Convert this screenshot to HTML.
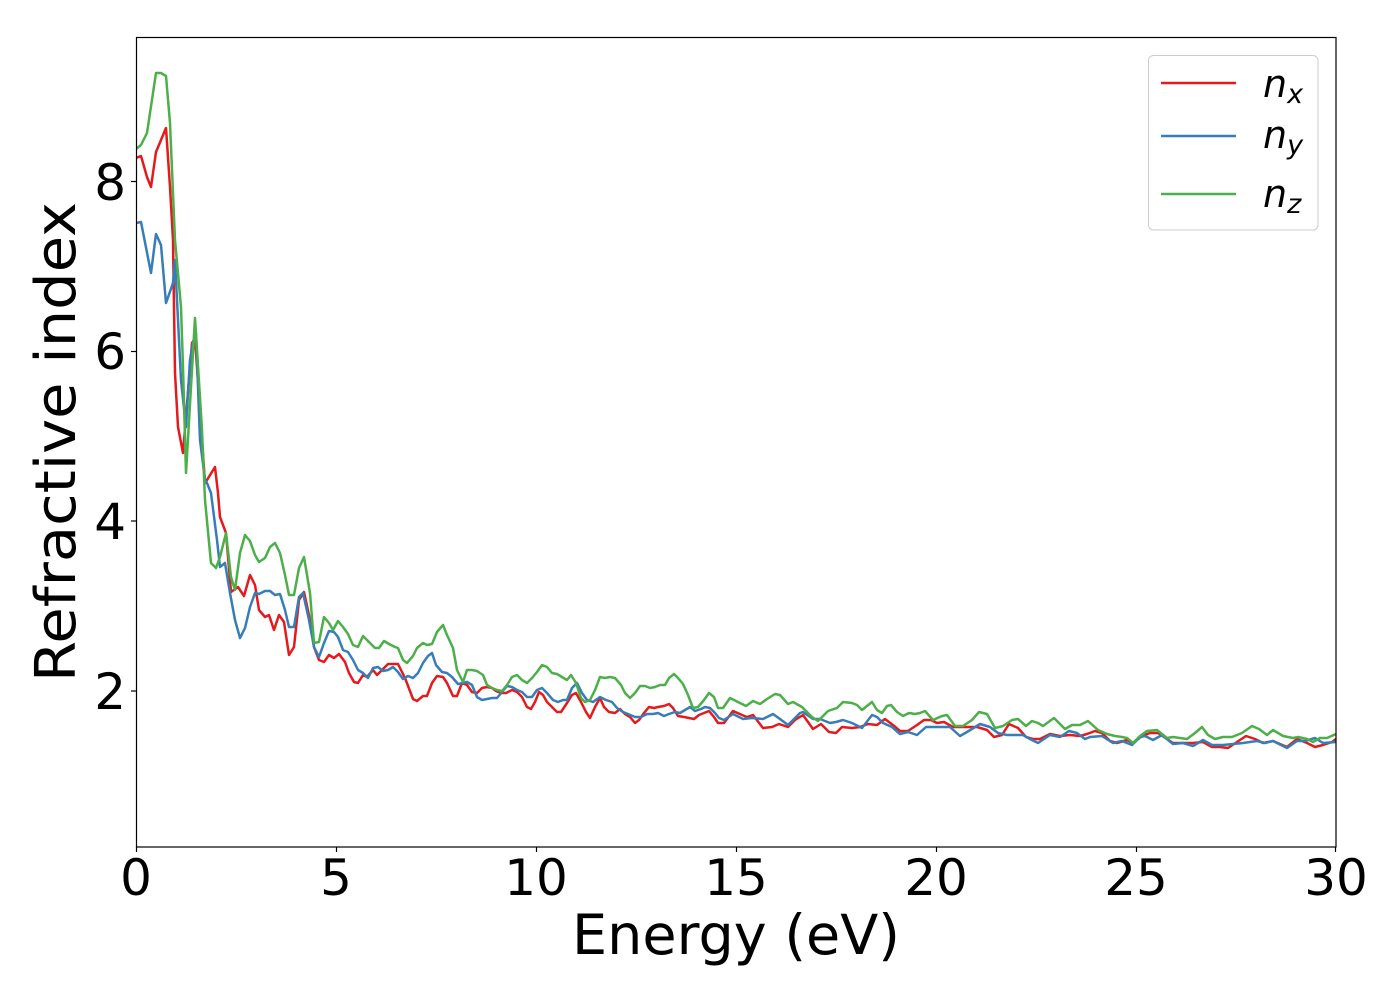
<!DOCTYPE html>
<html><head><meta charset="utf-8"><style>
html,body{margin:0;padding:0;background:#fff;}
svg{display:block;}
text{font-family:"DejaVu Sans","Liberation Sans",sans-serif;fill:#000;}
</style></head><body>
<svg width="1400" height="1000" viewBox="0 0 1400 1000" xmlns="http://www.w3.org/2000/svg">
<rect width="1400" height="1000" fill="#fff"/>
<defs><clipPath id="c"><rect x="136" y="37" width="1200" height="810"/></clipPath></defs>
<g clip-path="url(#c)" fill="none" stroke-width="2.5" stroke-linejoin="round" stroke-linecap="round">
<polyline stroke="#e41a1c" points="136,158 141,156 147,177 151,187 156,152 166,128 170,187 173,240 175,373 178,427 183,453 192,343 195,338 205,483 207,480 215,467 218,493 220,517 226,533 231,592 238,587 244,596 250,575 255,585 259,610 265,617 269,615 274,630 279,615 284,622 289,655 294,647 299,600 304,592 310,620 314,647 319,660 324,662 329,655 334,658 339,654 345,662 349,673 354,682 358,683 363,675 367,677 373,670 377,675 382,670 388,664 398,664 405,678 413,699 417,701 423,696 427,696 432,683 437,676 443,677 447,683 453,696 457,696 462,683 467,685 472,692 477,693 482,688 487,687 492,688 496,691 501,693 506,693 512,690 517,692 522,697 527,707 531,709 535,702 539,692 543,695 547,702 552,707 557,712 561,712 567,703 572,695 576,693 581,702 586,712 590,718 595,707 600,698 604,707 609,712 615,713 620,709 625,714 630,717 635,723 639,720 644,713 649,707 654,708 658,707 664,706 669,704 673,708 678,716 684,717 689,718 694,719 699,715 704,713 709,711 714,717 718,723 724,723 733,711 742,715 747,717 753,715 763,728 772,727 779,724 788,727 795,720 803,715 813,729 821,724 829,732 836,733 842,727 852,728 860,727 868,724 877,725 885,719 893,725 900,731 908,731 917,725 924,720 931,720 937,723 944,722 953,727 963,727 977,727 987,730 994,737 1002,735 1009,724 1018,728 1026,737 1033,739 1040,739 1050,734 1060,736 1070,735 1080,736 1087,734 1095,731 1102,733 1110,741 1117,743 1127,740 1133,743 1142,736 1150,733 1158,733 1167,739 1173,743 1183,743 1193,743 1203,742 1212,747 1220,747 1228,748 1237,742 1246,736 1255,739 1263,743 1273,741 1287,747 1297,739 1307,743 1315,747 1323,745 1332,742 1336,739"/>
<polyline stroke="#377eb8" points="136,223 141,222 151,273 156,234 161,245 166,303 173,283 175,260 181,380 186,427 190,360 193,343 196,333 200,440 205,480 207,483 211,493 217,540 220,567 225,563 230,593 235,620 240,638 245,628 250,607 255,593 259,594 265,591 270,591 275,595 280,594 285,610 289,627 294,627 299,597 303,593 309,620 314,647 319,657 324,643 329,631 334,632 338,637 343,650 348,652 353,660 358,670 363,673 368,678 373,668 378,667 383,671 388,670 393,667 398,672 403,679 408,676 413,678 418,673 423,663 428,656 432,653 436,665 442,672 447,673 452,677 458,684 463,683 467,682 472,685 477,697 482,700 487,699 492,698 497,698 502,692 507,686 512,687 517,690 522,692 527,697 532,697 537,690 542,688 547,693 553,700 558,702 563,700 567,700 572,688 577,683 582,693 587,700 593,702 600,697 606,700 612,702 617,708 623,712 628,714 635,717 641,717 647,714 653,714 658,713 664,716 669,714 675,712 680,713 685,710 690,707 695,711 701,709 705,707 710,708 715,713 719,718 724,720 733,714 743,719 752,718 763,719 773,714 780,719 788,725 800,713 803,712 813,719 820,719 830,723 836,722 843,720 852,723 862,728 872,715 877,717 883,723 892,727 900,734 908,732 917,735 926,727 937,727 950,727 960,736 967,732 980,724 990,727 998,733 1007,735 1017,735 1023,735 1030,739 1038,743 1050,735 1060,737 1069,731 1077,733 1085,739 1090,737 1102,736 1113,743 1122,741 1132,745 1140,737 1145,736 1153,740 1162,735 1173,744 1183,743 1193,746 1203,740 1212,745 1223,745 1233,744 1243,743 1257,741 1265,743 1273,741 1287,748 1297,741 1305,741 1315,738 1323,743 1336,742"/>
<polyline stroke="#4daf4a" points="136,149 141,145 147,133 156,73 161,73 166,76 170,123 175,240 181,307 183,367 186,473 195,318 202,430 205,500 211,563 216,568 220,557 226,533 231,577 235,590 240,553 245,535 250,541 255,555 259,562 265,558 270,547 275,543 280,553 285,575 289,595 294,595 299,568 304,557 310,593 314,643 319,642 324,617 329,623 333,630 338,621 343,627 348,634 353,645 358,647 363,636 368,641 375,648 379,648 384,641 389,644 395,647 398,648 403,660 407,663 413,656 417,648 423,643 427,645 432,644 437,632 443,625 447,635 453,648 457,670 463,682 467,670 472,670 477,671 483,675 487,685 492,688 497,690 502,691 507,685 512,677 517,675 522,680 527,683 532,678 537,672 542,665 547,667 552,673 557,674 562,677 567,680 571,675 576,683 581,698 585,702 590,700 595,690 600,677 605,678 610,677 615,678 621,685 625,693 630,698 635,693 640,686 645,686 650,688 655,687 660,685 665,685 669,678 674,674 678,678 683,684 688,695 693,708 698,707 704,700 709,693 714,697 718,708 723,708 730,698 738,702 746,706 753,701 760,704 767,699 775,694 780,695 788,704 793,702 802,707 812,717 818,721 828,711 837,708 843,702 852,703 857,705 862,710 872,702 877,710 882,713 887,706 891,705 897,712 903,716 909,713 915,714 920,713 925,711 933,720 942,716 947,715 955,726 963,726 972,720 979,712 987,714 995,728 1003,726 1012,720 1018,719 1026,726 1032,721 1038,723 1043,726 1054,718 1065,729 1072,725 1080,725 1088,721 1098,730 1107,734 1115,736 1122,737 1127,738 1133,743 1140,736 1147,731 1157,730 1167,738 1173,737 1187,739 1195,733 1202,727 1208,735 1215,739 1223,737 1232,737 1242,733 1252,726 1259,729 1267,735 1273,730 1283,736 1293,738 1298,737 1307,739 1313,742 1320,738 1327,738 1336,734"/>
</g>
<rect x="136.5" y="37.5" width="1199.5" height="809.5" fill="none" stroke="#000" stroke-width="1.2"/>
<g stroke="#000" stroke-width="1.2">
<line x1="136.5" y1="847" x2="136.5" y2="852"/>
<line x1="336.5" y1="847" x2="336.5" y2="852"/>
<line x1="536.5" y1="847" x2="536.5" y2="852"/>
<line x1="736.5" y1="847" x2="736.5" y2="852"/>
<line x1="936.5" y1="847" x2="936.5" y2="852"/>
<line x1="1136.5" y1="847" x2="1136.5" y2="852"/>
<line x1="1335.5" y1="847" x2="1335.5" y2="852"/>
<line x1="131" y1="691" x2="136" y2="691"/>
<line x1="131" y1="521" x2="136" y2="521"/>
<line x1="131" y1="351.5" x2="136" y2="351.5"/>
<line x1="131" y1="181.5" x2="136" y2="181.5"/>
</g>
<g font-size="50" text-anchor="middle">
<text x="136" y="895">0</text>
<text x="336" y="895">5</text>
<text x="536" y="895">10</text>
<text x="736" y="895">15</text>
<text x="936" y="895">20</text>
<text x="1136" y="895">25</text>
<text x="1336" y="895">30</text>
</g>
<g font-size="50" text-anchor="end">
<text x="126" y="709">2</text>
<text x="126" y="539">4</text>
<text x="126" y="369">6</text>
<text x="126" y="200">8</text>
</g>
<text x="736" y="954" font-size="55.6" text-anchor="middle">Energy (eV)</text>
<text transform="translate(75,442) rotate(-90)" font-size="56" text-anchor="middle" textLength="480" lengthAdjust="spacingAndGlyphs">Refractive index</text>
<rect x="1148.5" y="55.5" width="169.5" height="174.5" rx="5" ry="5" fill="#fff" fill-opacity="0.8" stroke="#cccccc" stroke-width="1"/>
<g stroke-width="2.5">
<line x1="1161" y1="83" x2="1236" y2="83" stroke="#e41a1c"/>
<line x1="1161" y1="136" x2="1236" y2="136" stroke="#377eb8"/>
<line x1="1161" y1="194" x2="1236" y2="194" stroke="#4daf4a"/>
</g>
<g font-style="italic">
<text x="1263" y="97" font-size="38">n<tspan font-size="27" dy="6">x</tspan></text>
<text x="1263" y="148" font-size="38">n<tspan font-size="27" dy="6">y</tspan></text>
<text x="1263" y="207" font-size="38">n<tspan font-size="27" dy="6">z</tspan></text>
</g>
</svg>
</body></html>
